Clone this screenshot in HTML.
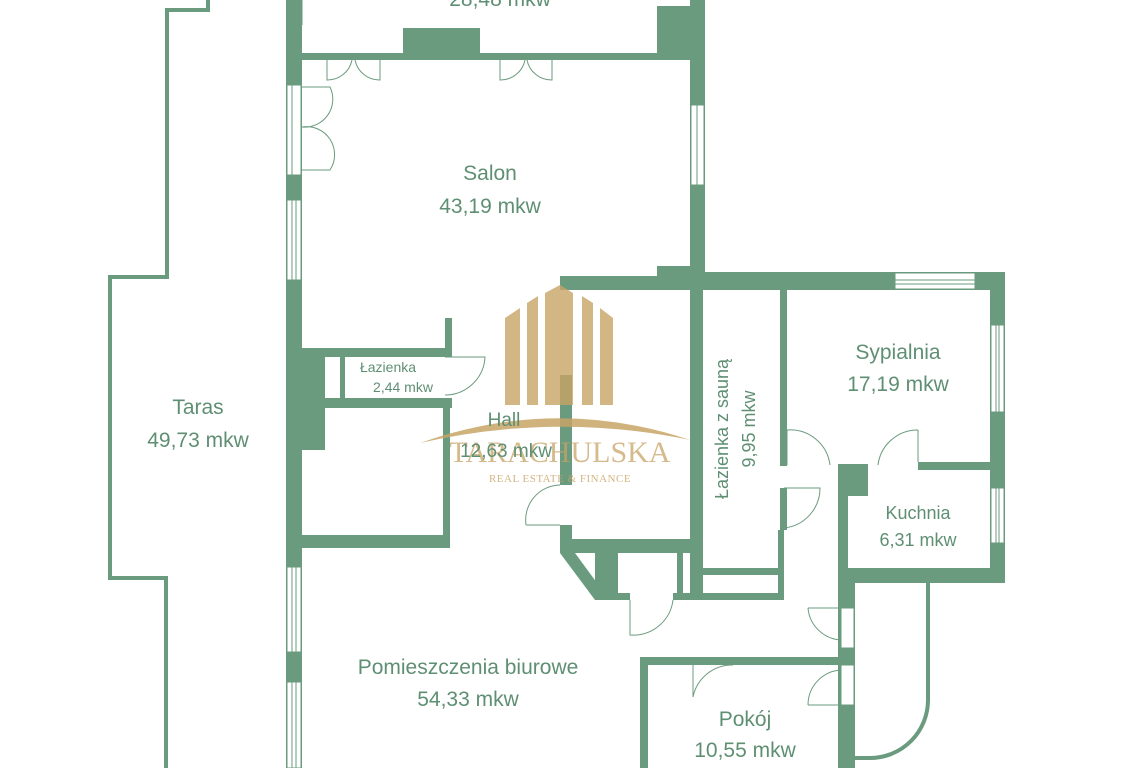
<!DOCTYPE html>
<html><head><meta charset="utf-8"><style>
html,body{margin:0;padding:0;background:#fff;}
svg{display:block;}
text{font-family:"Liberation Sans",sans-serif;fill:#5f8f73;}
</style></head><body>
<svg width="1123" height="768" viewBox="0 0 1123 768" xmlns="http://www.w3.org/2000/svg">
<g fill="#6b9b7e" stroke="none">
<rect x="286" y="0" width="16" height="768"/>
<rect x="302" y="53" width="390" height="7"/>
<rect x="403" y="28" width="77" height="30"/>
<rect x="657" y="6" width="35" height="52"/>
<rect x="690" y="0" width="15" height="290"/>
<rect x="657" y="266" width="48" height="10"/>
<rect x="560" y="276" width="445" height="14"/>
<rect x="705" y="272" width="300" height="18"/>
<rect x="990" y="272" width="15" height="311"/>
<rect x="560" y="276" width="12" height="14"/>
<rect x="560" y="375" width="12" height="110"/>
<rect x="560" y="525" width="12" height="28"/>
<rect x="560" y="539" width="140" height="14"/>
<polygon points="560,553 575,553 608,598 595,600"/>
<rect x="595" y="553" width="23" height="47"/>
<rect x="595" y="593" width="35" height="7"/>
<rect x="673" y="593" width="110" height="7"/>
<rect x="677" y="553" width="6" height="45"/>
<rect x="690" y="276" width="13" height="324"/>
<rect x="703" y="568" width="78" height="7"/>
<rect x="778" y="530" width="6" height="70"/>
<rect x="780" y="288" width="7" height="178"/>
<rect x="780" y="488" width="7" height="42"/>
<rect x="838" y="464" width="30" height="32"/>
<rect x="838" y="464" width="10" height="304"/>
<rect x="918" y="462" width="75" height="8"/>
<rect x="838" y="568" width="167" height="15"/>
<rect x="840" y="583" width="15" height="185"/>
<rect x="640" y="657" width="200" height="8"/>
<rect x="640" y="657" width="8" height="111"/>
<rect x="302" y="348" width="143" height="9"/>
<rect x="445" y="318" width="7" height="39"/>
<rect x="302" y="348" width="23" height="102"/>
<rect x="340" y="357" width="5" height="41"/>
<rect x="302" y="398" width="150" height="10"/>
<rect x="443" y="398" width="7" height="150"/>
<rect x="302" y="535" width="148" height="13"/>
</g>
<g fill="#fff" stroke="#6b9b7e" stroke-width="1">
<rect x="287" y="85" width="14" height="90"/>
<rect x="287" y="200" width="14" height="80"/>
<rect x="287" y="567" width="14" height="85"/>
<rect x="287" y="682" width="14" height="86"/>
<rect x="691" y="105" width="13" height="80"/>
<rect x="895" y="273" width="80" height="16"/>
<rect x="991" y="325" width="13" height="87"/>
<rect x="991" y="488" width="13" height="55"/>
<rect x="841" y="608" width="13" height="40"/>
<rect x="841" y="665" width="13" height="40"/>
</g>
<g stroke="#6b9b7e" stroke-width="1" fill="none">
<line x1="292" y1="85" x2="292" y2="175"/>
<line x1="292" y1="200" x2="292" y2="280"/><line x1="296" y1="200" x2="296" y2="280"/>
<line x1="292" y1="567" x2="292" y2="652"/><line x1="296" y1="567" x2="296" y2="652"/>
<line x1="292" y1="682" x2="292" y2="768"/><line x1="296" y1="682" x2="296" y2="768"/>
<line x1="697" y1="105" x2="697" y2="185"/>
<line x1="895" y1="280" x2="975" y2="280"/><line x1="895" y1="284" x2="975" y2="284"/>
<line x1="996" y1="325" x2="996" y2="412"/><line x1="999" y1="325" x2="999" y2="412"/>
<line x1="996" y1="488" x2="996" y2="543"/><line x1="999" y1="488" x2="999" y2="543"/>
<path d="M302,0 L302,25"/>
<path d="M327,60 L327,80 A25,25 0 0 0 352,60 M355,60 A25,25 0 0 0 380,80 L380,60"/>
<path d="M500,60 L500,80 A25,25 0 0 0 525,60 M527,60 A25,25 0 0 0 552,80 L552,60"/>
<path d="M302,87 L330,87 A28,28 0 0 1 302,127 M302,127 A28,28 0 0 1 330,170 L302,170"/>
<path d="M445,357 L485,357 A40,40 0 0 1 445,395"/>
<path d="M526,525 A35,35 0 0 1 560,485 M526,525 L560,525"/>
<path d="M787,430 L787,465 M787,430 A40,40 0 0 1 830,465"/>
<path d="M918,430 L918,462 M918,430 A40,40 0 0 0 878,465"/>
<path d="M784,488 L820,488 A40,40 0 0 1 784,528"/>
<path d="M630,600 L630,635 A40,40 0 0 0 673,600"/>
<path d="M808,608 L841,608 M808,608 A35,35 0 0 0 841,640"/>
<path d="M808,705 L841,705 M808,705 A35,35 0 0 1 841,670"/>
<path d="M693,665 L693,697 A40,40 0 0 1 733,665"/>
</g>
<path d="M928,583 L928,700 A58,58 0 0 1 870,758 L855,758" stroke="#6b9b7e" stroke-width="4" fill="none"/>
<polyline points="208,0 208,10 167,10 167,277 110,277 110,578 166,578 166,768" stroke="#6b9b7e" stroke-width="4" fill="none"/>
<g fill="#c8a466" opacity="0.8">
<polygon points="505,318 520,308 520,405 505,405"/>
<polygon points="527,303 538,296 538,405 527,405"/>
<polygon points="545,293 560,285 560,405 545,405"/>
<polygon points="560,285 573,293 573,405 560,405"/>
<polygon points="582,296 593,303 593,405 582,405"/>
<polygon points="600,308 613,318 613,405 600,405"/>
</g>
<path d="M420,443 Q555,395 690,440 Q555,412 420,443Z" fill="#c8a466" opacity="0.85"/>
<text x="560" y="462" text-anchor="middle" style="font-family:'Liberation Serif',serif;font-size:30px;fill:#c8a466;opacity:.75">TARACHULSKA</text>
<text x="560" y="482" text-anchor="middle" style="font-family:'Liberation Serif',serif;font-size:11px;fill:#c8a466;opacity:.8;letter-spacing:0.5px">REAL ESTATE &amp; FINANCE</text>
<text x="500" y="6" text-anchor="middle" font-size="21">28,48 mkw</text>
<text x="490" y="180" text-anchor="middle" font-size="21">Salon</text>
<text x="490" y="213" text-anchor="middle" font-size="21">43,19 mkw</text>
<text x="198" y="414" text-anchor="middle" font-size="21">Taras</text>
<text x="198" y="447" text-anchor="middle" font-size="21">49,73 mkw</text>
<text x="388" y="372" text-anchor="middle" font-size="14">Łazienka</text>
<text x="403" y="392" text-anchor="middle" font-size="14">2,44 mkw</text>
<text x="504" y="426" text-anchor="middle" font-size="19">Hall</text>
<text x="506" y="457" text-anchor="middle" font-size="19">12,63 mkw</text>
<text x="898" y="359" text-anchor="middle" font-size="21">Sypialnia</text>
<text x="898" y="391" text-anchor="middle" font-size="21">17,19 mkw</text>
<text x="918" y="519" text-anchor="middle" font-size="18">Kuchnia</text>
<text x="918" y="546" text-anchor="middle" font-size="18">6,31 mkw</text>
<text transform="translate(728,429) rotate(-90)" text-anchor="middle" font-size="18">Łazienka z sauną</text>
<text transform="translate(755,429) rotate(-90)" text-anchor="middle" font-size="18">9,95 mkw</text>
<text x="468" y="674" text-anchor="middle" font-size="21">Pomieszczenia biurowe</text>
<text x="468" y="706" text-anchor="middle" font-size="21">54,33 mkw</text>
<text x="745" y="726" text-anchor="middle" font-size="21">Pokój</text>
<text x="745" y="757" text-anchor="middle" font-size="21">10,55 mkw</text>
</svg>
</body></html>
